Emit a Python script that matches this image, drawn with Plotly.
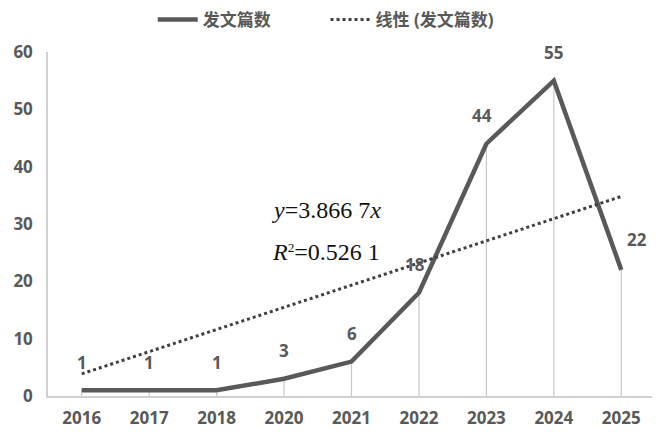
import plotly.graph_objects as go

# data
years = ['2016', '2017', '2018', '2020', '2021', '2022', '2023', '2024', '2025']
papers = [1, 1, 1, 3, 6, 18, 44, 55, 22]
trend_slope = 3.8667
trend_r2 = 0.5261
y_ticks = [0, 10, 20, 30, 40, 50, 60]

trend = [trend_slope * (i + 1) for i in range(len(years))]

# label offsets (px) so labels sit like the original
label_dx = [0, 0, 0, 0, 0, -4, -4, 0, 16]
label_dy = [28, 28, 28, 28, 28, 28, 28, 28, 30]

dark = '#595959'
font_fam = 'Open Sans, Noto Sans CJK SC, sans-serif'
leg_font = dict(size=17, color=dark, weight='bold')

fig = go.Figure()

# drop lines from each point down to the axis
fig.add_trace(go.Scatter(
    x=years, y=papers, mode='markers', marker=dict(size=0.1, color='rgba(0,0,0,0)'),
    error_y=dict(type='data', symmetric=False, array=[0] * len(papers), arrayminus=papers,
                 color='#c8c8c8', thickness=1.2, width=0),
    showlegend=False, hoverinfo='skip'
))

fig.add_trace(go.Scatter(
    x=years, y=papers, mode='lines', name='发文篇数',
    line=dict(color=dark, width=4.5), legend='legend'
))

fig.add_trace(go.Scatter(
    x=years, y=trend, mode='lines', name='线性 (发文篇数)',
    line=dict(color='#404040', width=3, dash='dot'), legend='legend2'
))

for i, (v, dx, dy) in enumerate(zip(papers, label_dx, label_dy)):
    fig.add_annotation(x=i, y=v, xref='x', yref='y', text=str(v), showarrow=False,
                       xshift=dx, yshift=dy,
                       font=dict(family=font_fam, size=17, color=dark, weight='bold'))

eq_font = dict(family='Liberation Serif, Times New Roman, serif', size=24, color='#111111')
fig.add_annotation(xref='paper', yref='paper', x=0.366, y=0.541, xanchor='left', showarrow=False,
                   text='<i>y</i>=%s<i>x</i>' % '3.866 7', font=eq_font)
fig.add_annotation(xref='paper', yref='paper', x=0.366, y=0.419, xanchor='left', showarrow=False,
                   text='<i>R</i><span style="font-size:19px"><sup>2</sup></span>=%s' % '0.526 1',
                   font=eq_font)

# page body adds an 8px offset, so the figure is a little smaller than the window
fig.update_layout(
    width=652, height=424,
    paper_bgcolor='white', plot_bgcolor='white',
    margin=dict(l=40, r=5, t=44, b=36, autoexpand=False),
    font=dict(family=font_fam, color=dark),
    legend=dict(orientation='h', x=0.222, xanchor='left', xref='container',
                y=0.972, yanchor='middle', yref='container',
                font=leg_font, itemwidth=40, bgcolor='rgba(0,0,0,0)'),
    legend2=dict(orientation='h', x=0.487, xanchor='left', xref='container',
                 y=0.972, yanchor='middle', yref='container',
                 font=leg_font, itemwidth=40, bgcolor='rgba(0,0,0,0)'),
    xaxis=dict(type='category', showline=True, linecolor='#d0d0d0', linewidth=1.5, showgrid=False,
               ticks='', tickfont=dict(size=17, color=dark, weight='bold'), ticklabelstandoff=6,
               range=[-0.5, len(years) - 0.5]),
    yaxis=dict(range=[0, 60], tickvals=y_ticks, showline=True, linecolor='#d0d0d0', linewidth=1.5,
               showgrid=False, zeroline=False, ticks='', ticklabelstandoff=10,
               tickfont=dict(size=17, color=dark, weight='bold')),
)

fig.write_html("out.html")
